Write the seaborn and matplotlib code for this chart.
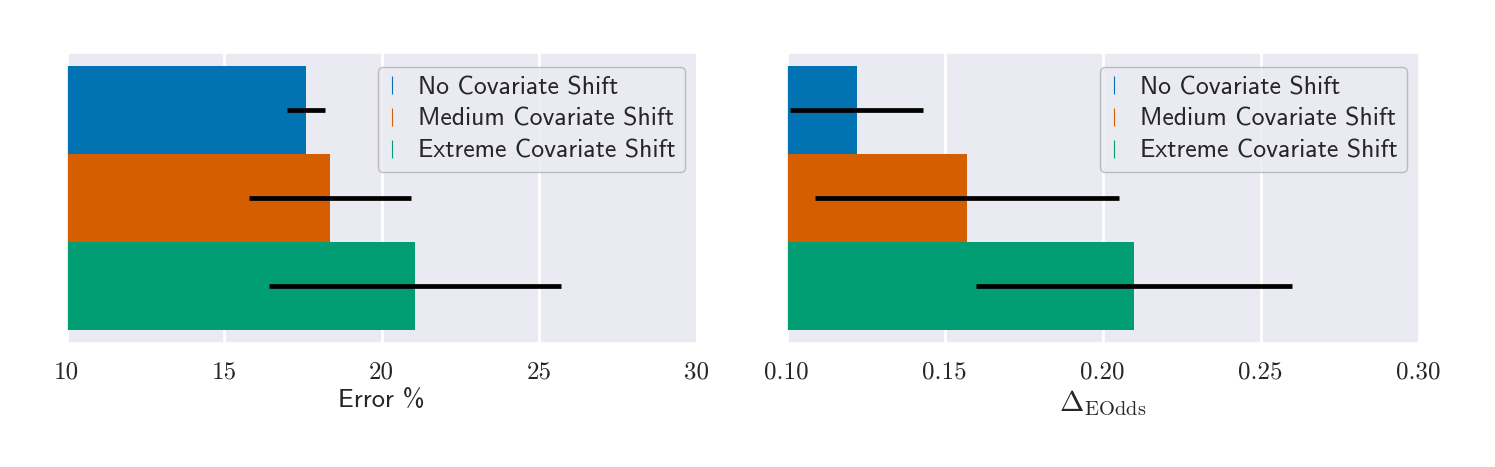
import matplotlib
matplotlib.use("Agg")
import matplotlib.pyplot as plt
from matplotlib.lines import Line2D
import seaborn as sns

# 値
shift_labels = ["No Covariate Shift", "Medium Covariate Shift", "Extreme Covariate Shift"]

error_mean = [17.60, 18.36, 21.06]
error_lo = [16.99, 15.79, 16.43]
error_hi = [18.20, 20.93, 25.68]

eodds_mean = [0.1222, 0.1571, 0.2100]
eodds_lo = [0.1010, 0.1091, 0.1600]
eodds_hi = [0.1430, 0.2051, 0.2600]

left_ticks = [10, 15, 20, 25, 30]
right_ticks = [0.10, 0.15, 0.20, 0.25, 0.30]

# 設定
sns.set_theme(style="darkgrid")
plt.rcParams["mathtext.fontset"] = "cm"
plt.rcParams["grid.linewidth"] = 2.0
cb = sns.color_palette("colorblind")
colors = [cb[0], cb[3], cb[2]]


def draw_panel(ax, mean, lo, hi, ticks, tick_fmt, xlabel, xlabel_family, xlabel_size):
    """横棒グラフとエラーバーを描く関数"""
    sns.barplot(x=mean, y=shift_labels, hue=shift_labels, palette=colors,
                orient="h", width=1.0, saturation=1, linewidth=0,
                legend=False, ax=ax)
    ax.hlines(y=range(len(mean)), xmin=lo, xmax=hi, color="black", lw=3.4, zorder=5)
    ax.set_ylim(2.65, -0.65)
    ax.set_xlim(ticks[0], ticks[-1])
    ax.set_yticks([])
    ax.set_ylabel("")
    ax.set_xticks(ticks)
    ax.set_xticklabels([tick_fmt.format(t) for t in ticks], fontfamily="cmr10", fontsize=18)
    ax.tick_params(axis="x", length=0, pad=13)
    ax.set_xlabel(xlabel, fontfamily=xlabel_family, fontsize=xlabel_size, labelpad=4)

    # 凡例は細い縦線のハンドル
    handles = [Line2D([], [], color=c, marker="|", linestyle="none",
                      markersize=13, markeredgewidth=0.8) for c in colors]
    leg = ax.legend(handles, shift_labels, loc="upper right",
                    bbox_to_anchor=(0.9814, 0.9517), borderaxespad=0,
                    prop={"family": "cmss10", "size": 18.5},
                    handlelength=0.4, handletextpad=0.8, borderpad=0.36,
                    labelspacing=0.34, frameon=True, fancybox=True)
    leg.get_frame().set_facecolor("#EAEAF2")
    leg.get_frame().set_edgecolor("#b0b0b0")
    leg.get_frame().set_alpha(0.8)


fig = plt.figure(figsize=(14.95, 4.67), dpi=100)
ax1 = fig.add_axes([66.7 / 1495, 1 - 343 / 467, 630 / 1495, 290 / 467])
ax2 = fig.add_axes([786.7 / 1495, 1 - 343 / 467, 632 / 1495, 290 / 467])

draw_panel(ax1, error_mean, error_lo, error_hi, left_ticks, "{:d}",
           "Error %", "cmss10", 19)
draw_panel(ax2, eodds_mean, eodds_lo, eodds_hi, right_ticks, "{:.2f}",
           r"$\Delta_{\mathrm{EOdds}}$", "cmr10", 21)

fig.savefig("out.png", dpi=100)
